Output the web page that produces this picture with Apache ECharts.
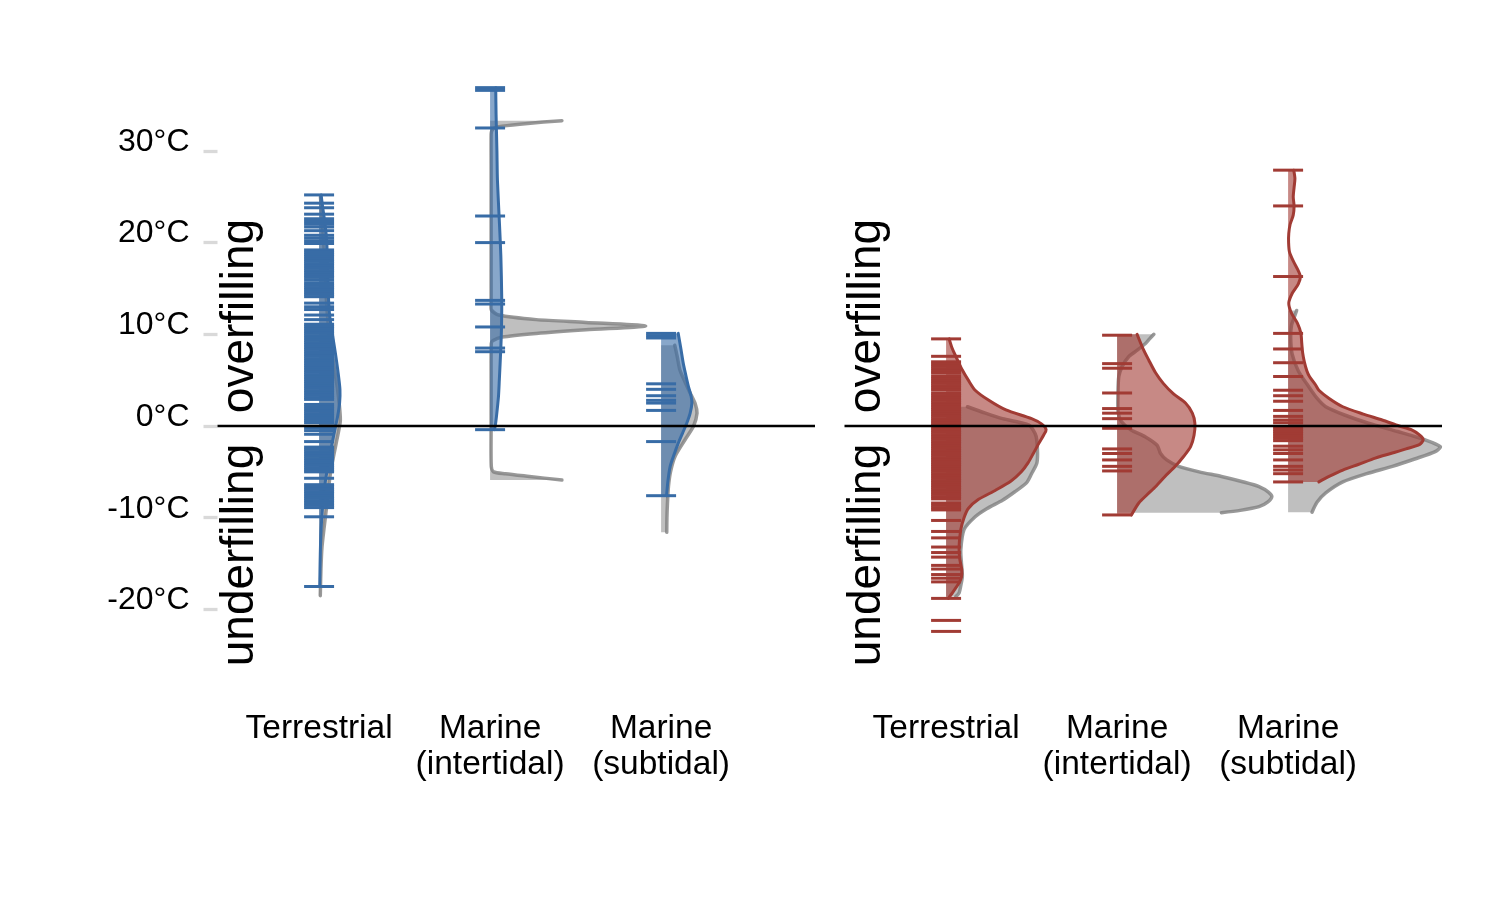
<!DOCTYPE html>
<html>
<head>
<meta charset="utf-8">
<script src="https://cdn.jsdelivr.net/npm/echarts@6/dist/echarts.min.js"></script>
<style>
  html, body { margin: 0; padding: 0; background: #ffffff; }
  #chart { width: 1500px; height: 900px; }
</style>
</head>
<body>
<div id="chart"></div>
<script>
// ---------------- data ----------------
const categories = ['Terrestrial', 'Marine\n(intertidal)', 'Marine\n(subtidal)'];
const categoryPositions = [1, 2, 3];
const yTickValues = [-20, -10, 0, 10, 20, 30];
const panelLabels = ['overfilling', 'underfilling'];

// rug values (°C) — left (blue) panel
const blueTerrestrialRug = [25.2, 24.3, 23.8, 23.1, 22.6, 22.3, 22.0, 21.7, 21.3, 20.8, 20.5, 20.2, 19.9, 19.2, 18.95, 18.7, 18.45, 18.2, 17.95, 17.7, 17.45, 17.2, 16.95, 16.7, 16.45, 16.2, 15.9, 15.6, 15.35, 15.1, 14.85, 14.6, 14.35, 14.1, 13.4, 13.0, 12.7, 12.1, 11.6, 11.1, 10.85, 10.6, 10.35, 10.1, 9.85, 9.6, 9.35, 9.1, 8.85, 8.6, 8.35, 8.1, 7.85, 7.6, 7.35, 7.1, 6.85, 6.6, 6.35, 6.1, 5.85, 5.6, 5.35, 5.1, 4.85, 4.6, 4.35, 4.1, 3.85, 3.6, 3.35, 3.1, 2.9, 2.35, 2.1, 1.85, 1.6, 1.35, 1.1, 0.85, 0.6, 0.35, -0.2, -0.5, -0.9, -1.7, -2.3, -2.55, -2.8, -3.05, -3.3, -3.55, -3.8, -4.05, -4.3, -4.55, -4.8, -5.0, -5.7, -6.4, -6.65, -6.9, -7.15, -7.4, -7.65, -7.9, -8.15, -8.4, -8.65, -8.9, -9.9, -17.5];
const blueIntertidalRug = [36.9, 36.6, 32.5, 22.9, 20.0, 13.7, 13.3, 10.8, 8.5, 8.1, -0.4];
const blueSubtidalRug = [10.1, 9.85, 9.6, 4.6, 4.0, 3.3, 2.8, 2.5, 1.7, -1.7, -7.6];

// rug values (°C) — right (red) panel
const redTerrestrialRug = [9.5, 7.6, 7.0, 6.75, 6.5, 6.25, 6.0, 5.75, 5.4, 5.15, 4.9, 4.65, 4.4, 4.15, 3.9, 3.55, 3.3, 3.05, 2.8, 2.55, 2.3, 2.05, 1.8, 1.55, 1.3, 1.05, 0.8, 0.55, 0.3, 0.05, -0.2, -0.45, -0.7, -0.95, -1.2, -1.45, -1.7, -1.95, -2.2, -2.45, -2.7, -2.95, -3.2, -3.45, -3.7, -3.95, -4.2, -4.45, -4.7, -4.95, -5.2, -5.45, -5.7, -5.95, -6.2, -6.45, -6.7, -6.95, -7.2, -7.45, -7.7, -7.95, -8.4, -8.65, -8.9, -9.15, -10.3, -11.5, -12.2, -13.2, -13.8, -14.3, -15.2, -15.6, -16.2, -16.6, -17.0, -18.8, -21.2, -22.4];
const redIntertidalRug = [9.9, 6.8, 6.3, 3.6, 1.9, 1.4, 0.8, -0.25, -2.5, -3.0, -3.7, -4.4, -4.9, -9.7];
const redSubtidalRug = [27.9, 24.0, 16.3, 10.1, 8.4, 6.9, 5.4, 3.9, 3.3, 2.7, 1.7, 1.05, 0.65, 0.35, -0.1, -0.35, -0.6, -0.85, -1.1, -1.35, -1.6, -2.2, -2.6, -3.0, -3.7, -4.4, -4.8, -5.2, -6.1];

// density curves: [°C, half-violin width in category units]
const blueTerrestrialDensity = [[25.2,0.012],[24,0.02],[22,0.035],[20,0.045],[17,0.05],[14,0.055],[12,0.062],[10,0.078],[8,0.095],[6,0.11],[4,0.122],[2.5,0.12],[1,0.108],[0,0.097],[-2,0.075],[-4,0.055],[-6,0.037],[-8,0.024],[-10,0.016],[-12,0.01],[-14,0.007],[-16,0.005],[-17.5,0.004]];
const blueTerrestrialReference = [[25,0.008],[22,0.02],[19,0.03],[16,0.038],[13,0.045],[10,0.06],[8,0.075],[6,0.092],[4,0.108],[2,0.12],[0.5,0.124],[-1.5,0.104],[-3,0.088],[-4.5,0.072],[-6.5,0.057],[-8.8,0.044],[-11,0.03],[-13.2,0.017],[-15.5,0.011],[-18.5,0.007]];
const blueIntertidalDensity = [[36.9,0.033],[34,0.035],[30,0.04],[26.8,0.043],[22,0.055],[18.5,0.063],[14.1,0.068],[11,0.067],[8.6,0.063],[5,0.054],[3.2,0.049],[1,0.037],[0,0.03],[-0.4,0.025]];
const blueIntertidalReference = [[33.3,0.42],[33.0,0.22],[32.7,0.07],[32.5,0.025],[32.2,0.01],[31.8,0.006],[28,0.006],[20,0.006],[13.5,0.006],[12.65,0.008],[12.1,0.05],[11.6,0.27],[11.3,0.56],[10.9,0.91],[10.5,0.56],[10.1,0.27],[9.7,0.07],[9.3,0.015],[9.0,0.007],[5,0.006],[0,0.006],[-4.4,0.007],[-5.0,0.02],[-5.2,0.09],[-5.5,0.23],[-5.9,0.42]];
const blueSubtidalDensity = [[10.1,0.10],[8.5,0.115],[6.8,0.13],[5.5,0.145],[4.3,0.16],[3.3,0.175],[2.5,0.18],[1.4,0.17],[0.3,0.15],[-0.8,0.125],[-1.9,0.10],[-3,0.078],[-4.4,0.053],[-6,0.04],[-7.6,0.032]];
const blueSubtidalReference = [[8.8,0.08],[7.5,0.095],[6.1,0.11],[4.8,0.14],[3.6,0.17],[2.4,0.2],[1.4,0.21],[0,0.19],[-1.5,0.14],[-3.3,0.082],[-5,0.055],[-6.6,0.043],[-8.5,0.037],[-10,0.034],[-11.6,0.033]];

const redTerrestrialDensity = [[9.5,0.018],[8.5,0.035],[7.6,0.057],[6.1,0.095],[5,0.13],[3.9,0.17],[2.8,0.25],[1.75,0.35],[0.8,0.50],[0.2,0.56],[-0.4,0.585],[-1,0.57],[-1.8,0.545],[-3,0.51],[-4,0.48],[-5,0.44],[-6,0.38],[-7,0.29],[-8,0.19],[-9,0.13],[-10,0.105],[-11.3,0.086],[-13.2,0.076],[-14.5,0.08],[-15.7,0.092],[-16.5,0.09],[-17.1,0.076],[-18.2,0.037],[-18.8,0.013]];
const redTerrestrialReference = [[2.1,0.125],[1.4,0.23],[0.8,0.33],[0.1,0.485],[-0.8,0.52],[-1.5,0.53],[-3,0.535],[-4.1,0.53],[-5.2,0.5],[-6.2,0.47],[-7.2,0.40],[-8.1,0.33],[-9,0.24],[-9.9,0.17],[-11.3,0.105],[-13.5,0.086],[-15,0.09],[-16.4,0.095],[-17.5,0.085],[-18.2,0.076],[-18.6,0.057]];
const redIntertidalDensity = [[10.0,0.117],[8.5,0.15],[7.2,0.185],[5.8,0.225],[4.65,0.27],[3.5,0.33],[2.5,0.40],[1.4,0.44],[0.3,0.455],[-1,0.45],[-2.25,0.43],[-3.3,0.39],[-4.4,0.34],[-5.5,0.28],[-6.6,0.226],[-7.5,0.175],[-8.4,0.127],[-9.7,0.084]];
const redIntertidalReference = [[10.0,0.215],[9.5,0.19],[9.0,0.166],[8.3,0.12],[7.6,0.07],[6.5,0.03],[5.4,0.01],[3.5,0.005],[1.5,0.006],[0.5,0.025],[-0.4,0.08],[-1.2,0.166],[-2.1,0.234],[-3.0,0.254],[-3.7,0.29],[-4.4,0.36],[-5.0,0.48],[-5.5,0.61],[-6.1,0.74],[-6.6,0.83],[-7.2,0.885],[-7.7,0.905],[-8.3,0.88],[-8.8,0.83],[-9.2,0.72],[-9.45,0.61]];
const redSubtidalDensity = [[27.9,0.033],[27,0.04],[26,0.035],[25,0.03],[24,0.035],[23,0.03],[22,0.012],[21,0.004],[20,0.003],[19,0.008],[18,0.03],[17,0.058],[16.3,0.072],[15.5,0.06],[14.5,0.025],[13.4,0.004],[12.3,0.02],[11.2,0.055],[10.1,0.075],[9,0.08],[8,0.085],[7,0.095],[6,0.11],[5.4,0.125],[4.5,0.16],[3.9,0.18],[3,0.24],[2.1,0.32],[1.3,0.44],[0.65,0.55],[0,0.65],[-0.4,0.72],[-1,0.77],[-1.5,0.79],[-2,0.77],[-2.5,0.69],[-3,0.6],[-3.5,0.51],[-4.2,0.41],[-4.8,0.32],[-5.5,0.24],[-6.1,0.18]];
const redSubtidalReference = [[12.6,0.05],[11.8,0.035],[11,0.02],[9.7,0.015],[7.9,0.023],[6,0.06],[4.3,0.12],[3,0.17],[2.1,0.22],[1.2,0.33],[0.3,0.47],[-0.6,0.64],[-1.5,0.80],[-2.25,0.89],[-2.8,0.86],[-3.6,0.74],[-4.4,0.61],[-5.2,0.46],[-6.1,0.32],[-7.3,0.22],[-8.3,0.17],[-9.4,0.14]];

// ---------------- styles ----------------
const FONT = '"Liberation Sans", Arial, Helvetica, sans-serif';
const BLUE = '#386CA6';
const RED = '#A13B34';
const BLUE_FILL = 'rgba(56,108,166,0.6)';
const RED_FILL = 'rgba(161,59,52,0.6)';
const GREY_FILL = 'rgba(128,128,128,0.5)';
const GREY_LINE = 'rgba(128,128,128,0.8)';
const RUG_HALF = 0.0877;
const X_MIN = 0.406, X_MAX = 3.9;

function densitySeries(panel, cat, curve, fill, stroke, lineWidth, z) {
  return {
    type: 'custom', xAxisIndex: panel, yAxisIndex: panel, z: z, silent: true,
    data: [[cat, curve[0][0]]],
    renderItem: function (params, api) {
      const line = curve.map(function (p) { return api.coord([cat + p[1], p[0]]); });
      const top = api.coord([cat, curve[0][0]]);
      const bot = api.coord([cat, curve[curve.length - 1][0]]);
      return {
        type: 'group',
        children: [
          { type: 'polygon', shape: { points: [top].concat(line, [bot]) }, style: { fill: fill, stroke: null } },
          { type: 'polyline', shape: { points: line, smooth: 0.25 },
            style: { fill: null, stroke: stroke, lineWidth: lineWidth, lineJoin: 'round', lineCap: 'round' } }
        ]
      };
    }
  };
}

function rugSeries(panel, cat, values, color) {
  return {
    type: 'custom', xAxisIndex: panel, yAxisIndex: panel, z: 6, silent: true,
    data: values.map(function (v) { return [cat, v]; }),
    renderItem: function (params, api) {
      const v = api.value(1);
      const a = api.coord([cat - RUG_HALF, v]);
      const b = api.coord([cat + RUG_HALF, v]);
      return { type: 'line', shape: { x1: a[0], y1: a[1], x2: b[0], y2: b[1] },
               style: { stroke: color, lineWidth: 3.0 } };
    }
  };
}

function zeroLine(panel) {
  return {
    type: 'line', xAxisIndex: panel, yAxisIndex: panel, z: 8, silent: true,
    symbol: 'none', data: [[X_MIN, 0], [X_MAX, 0]],
    lineStyle: { color: '#000', width: 2.6 }
  };
}

const panels = [
  { color: BLUE, fill: BLUE_FILL,
    rugs: [blueTerrestrialRug, blueIntertidalRug, blueSubtidalRug],
    dens: [blueTerrestrialDensity, blueIntertidalDensity, blueSubtidalDensity],
    refs: [blueTerrestrialReference, blueIntertidalReference, blueSubtidalReference] },
  { color: RED, fill: RED_FILL,
    rugs: [redTerrestrialRug, redIntertidalRug, redSubtidalRug],
    dens: [redTerrestrialDensity, redIntertidalDensity, redSubtidalDensity],
    refs: [redTerrestrialReference, redIntertidalReference, redSubtidalReference] }
];

const series = [];
panels.forEach(function (p, pi) {
  categoryPositions.forEach(function (cat, ci) {
    series.push(densitySeries(pi, cat, p.refs[ci], GREY_FILL, GREY_LINE, 3.5, 2));
  });
  categoryPositions.forEach(function (cat, ci) {
    series.push(densitySeries(pi, cat, p.dens[ci], p.fill, p.color, 3, 4));
  });
  categoryPositions.forEach(function (cat, ci) {
    series.push(rugSeries(pi, cat, p.rugs[ci], p.color));
  });
  series.push(zeroLine(pi));
});

const gridTop = 59.2, gridHeight = 641.9, gridWidth = 597.5;
const gridLefts = [217.5, 844.5];

function xAxisFor(i) {
  return {
    gridIndex: i, type: 'value', min: X_MIN, max: X_MAX,
    axisLine: { show: false }, axisTick: { show: false }, splitLine: { show: false },
    axisLabel: {
      customValues: categoryPositions,
      formatter: function (v) { return categories[Math.round(v) - 1]; },
      fontSize: 33.5, lineHeight: 36, fontFamily: FONT, color: '#000',
      margin: 10, verticalAlign: 'top', align: 'center'
    }
  };
}
function yAxisFor(i) {
  return {
    gridIndex: i, type: 'value', min: -30, max: 40, show: i === 0,
    axisLine: { show: false }, splitLine: { show: false },
    axisTick: { show: true, customValues: yTickValues, length: 14,
                lineStyle: { color: '#D9D9D9', width: 3.3 } },
    axisLabel: {
      customValues: yTickValues,
      formatter: function (v) { return v + '°C'; },
      fontSize: 32, fontFamily: FONT, color: '#000', margin: 28,
      verticalAlign: 'bottom', lineHeight: 18
    }
  };
}

const graphics = [];
gridLefts.forEach(function (left) {
  const dx = left - 217.5;
  graphics.push({ type: 'text', x: 240 + dx, y: 316, rotation: Math.PI / 2, silent: true,
    style: { text: panelLabels[0], fontSize: 46, fontFamily: FONT, fill: '#000', align: 'center', verticalAlign: 'middle' } });
  graphics.push({ type: 'text', x: 240 + dx, y: 555, rotation: Math.PI / 2, silent: true,
    style: { text: panelLabels[1], fontSize: 46, fontFamily: FONT, fill: '#000', align: 'center', verticalAlign: 'middle' } });
});

const option = {
  animation: false,
  backgroundColor: '#ffffff',
  grid: gridLefts.map(function (l) {
    return { left: l, top: gridTop, width: gridWidth, height: gridHeight, outerBoundsMode: 'none', containLabel: false };
  }),
  xAxis: [xAxisFor(0), xAxisFor(1)],
  yAxis: [yAxisFor(0), yAxisFor(1)],
  graphic: graphics,
  series: series
};

const chart = echarts.init(document.getElementById('chart'), null, { renderer: 'canvas' });
chart.setOption(option);
</script>
</body>
</html>
